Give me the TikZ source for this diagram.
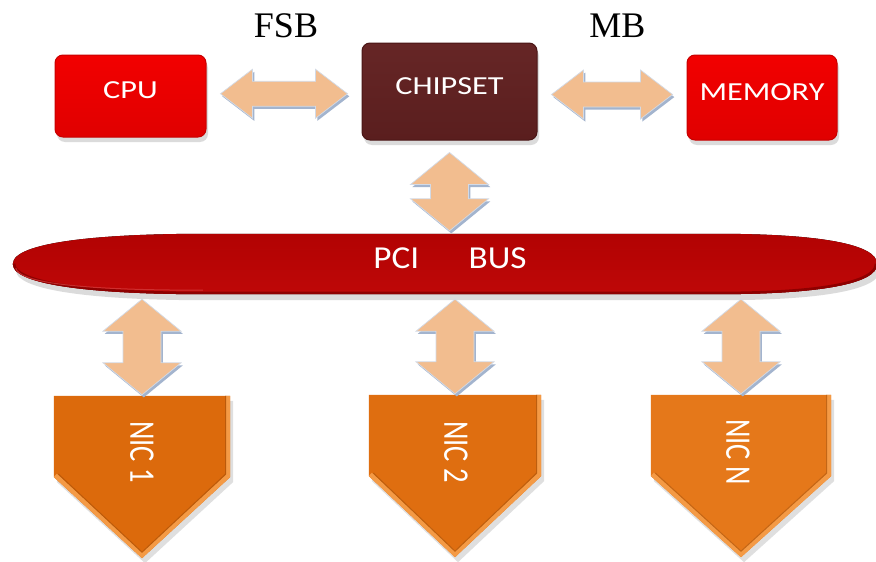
\documentclass[tikz,border=0pt]{standalone}
\usepackage{fontspec}
\setmainfont{Liberation Serif}
\newfontfamily\slidefont{Carlito}
\usetikzlibrary{calc,shadows}

\definecolor{cpured}{HTML}{F20000}
\definecolor{cpureddark}{HTML}{E00000}
\definecolor{cpuedge}{HTML}{C80000}
\definecolor{chipbrown}{HTML}{662626}
\definecolor{chipbrowndark}{HTML}{5A1E1E}
\definecolor{chipedge}{HTML}{4A1616}
\definecolor{busred}{HTML}{BE0808}
\definecolor{busreddark}{HTML}{B20202}
\definecolor{busrim}{HTML}{8E0000}
\definecolor{busshine}{HTML}{D84040}
\definecolor{nicA}{HTML}{DC6A0C}
\definecolor{nicB}{HTML}{DF6E10}
\definecolor{nicC}{HTML}{E5781A}
\definecolor{nicrim}{HTML}{F49A45}
\definecolor{peach}{HTML}{F2BD8F}
\definecolor{peachedge}{HTML}{D2DAE6}
\definecolor{bevel}{HTML}{A3B4CE}

% horizontally stretched slide lettering
\newcommand\wide[1]{\scalebox{1.24}[1]{#1}}
\newcommand\nictxt[1]{\scalebox{0.95}[1.2]{#1}}

\begin{document}
\begin{tikzpicture}[x=1pt,y=-1pt,
  box/.style={rounded corners=8pt, inner sep=0pt, text=white,
    font=\slidefont\fontsize{26}{30}\selectfont,
    text height=17pt, text depth=12pt, line width=1pt,
    drop shadow={shadow xshift=2pt, shadow yshift=-5pt, opacity=0.28}},
  redbox/.style={box, top color=cpured, bottom color=cpureddark, draw=cpuedge},
  brownbox/.style={box, top color=chipbrown, bottom color=chipbrowndark, draw=chipedge},
  busnode/.style={inner sep=0pt, text=white,
    font=\slidefont\fontsize{32}{36}\selectfont,
    text height=21pt, text depth=12.4pt},
  busname/.style={font=\fontsize{36}{40}\selectfont, inner sep=0pt},
  nicnode/.style={inner sep=0pt, minimum height=162pt},
  nictext/.style={rotate=-90, text=white, inner sep=0pt,
    font=\slidefont\fontsize{30}{34}\selectfont},
  arrowbody/.style={fill=peach, draw=peachedge, line width=0.7pt, line join=miter,
    preaction={fill=bevel, transform canvas={shift={(1.8pt,-2.6pt)}}}},
  harrow/.style={to path={
    let \p1=(\tikztostart), \p2=(\tikztotarget),
        \p3=($(\tikztostart)!0.5!(\tikztotarget)$) in
    (\x1+14pt,\y3) -- (\x1+46pt,\y3+24.5pt) -- (\x1+46pt,\y3+12.5pt)
    -- (\x2-46pt,\y3+12.5pt) -- (\x2-46pt,\y3+24.5pt) -- (\x2-14pt,\y3)
    -- (\x2-46pt,\y3-24.5pt) -- (\x2-46pt,\y3-12.5pt) -- (\x1+46pt,\y3-12.5pt)
    -- (\x1+46pt,\y3-24.5pt) -- cycle}},
  varrow/.style 2 args={to path={
    let \p1=(\tikztostart), \p2=(\tikztotarget) in
    (\x1,\y1-#1pt) -- (\x1+39pt,\y1-#1pt-32pt) -- (\x1+19pt,\y1-#1pt-32pt)
    -- (\x1+19pt,\y2+#2pt+32pt) -- (\x1+39pt,\y2+#2pt+32pt) -- (\x1,\y2+#2pt)
    -- (\x1-39pt,\y2+#2pt+32pt) -- (\x1-19pt,\y2+#2pt+32pt) -- (\x1-19pt,\y1-#1pt-32pt)
    -- (\x1-39pt,\y1-#1pt-32pt) -- cycle}}
]
\fill[white] (0,0) rectangle (876,562);
\useasboundingbox (0,0) rectangle (876,562);

% bus labels
\node[busname] (fsb) at (286,26) {FSB};
\node[busname] (mb) at (617.5,26) {MB};

% top row
\node[redbox, minimum width=151pt, minimum height=82pt] (cpu) at (130.5,96) {\wide{CPU}};
\node[brownbox, minimum width=175pt, minimum height=97pt] (chip) at (449.5,91.5) {\wide{CHIPSET}};
\node[redbox, minimum width=150pt, minimum height=85pt] (mem) at (762,97.5) {\wide{MEMORY}};

% PCI bus
\node[busnode, minimum width=864pt, minimum height=60pt] (bus) at (445,264) {};
\fill[top color=busreddark, bottom color=busred,
      drop shadow={shadow xshift=3pt, shadow yshift=-6pt, opacity=0.28}]
  (bus.west) .. controls ($(bus.north west)+(0,8)$) and ($(bus.north west)+(90,0)$)
  .. ($(bus.north west)+(190,0)$) -- ($(bus.north east)+(-160,0)$)
  .. controls ($(bus.north east)+(-60,0)$) and ($(bus.north east)+(0,10)$) .. (bus.east)
  .. controls ($(bus.south east)+(0,-10)$) and ($(bus.south east)+(-60,0)$)
  .. ($(bus.south east)+(-160,0)$) -- ($(bus.south west)+(190,0)$)
  .. controls ($(bus.south west)+(90,0)$) and ($(bus.south west)+(0,-8)$) .. (bus.west) -- cycle;
\begin{scope}
  \clip (bus.west) .. controls ($(bus.north west)+(0,8)$) and ($(bus.north west)+(90,0)$)
    .. ($(bus.north west)+(190,0)$) -- ($(bus.north east)+(-160,0)$)
    .. controls ($(bus.north east)+(-60,0)$) and ($(bus.north east)+(0,10)$) .. (bus.east)
    .. controls ($(bus.south east)+(0,-10)$) and ($(bus.south east)+(-60,0)$)
    .. ($(bus.south east)+(-160,0)$) -- ($(bus.south west)+(190,0)$)
    .. controls ($(bus.south west)+(90,0)$) and ($(bus.south west)+(0,-8)$) .. (bus.west) -- cycle;
  \draw[busrim, line width=5pt]
    (bus.east) .. controls ($(bus.south east)+(0,-10)$) and ($(bus.south east)+(-60,0)$)
    .. ($(bus.south east)+(-160,0)$) -- ($(bus.south west)+(190,0)$)
    .. controls ($(bus.south west)+(90,0)$) and ($(bus.south west)+(0,-8)$) .. (bus.west);
  \draw[busshine, line width=1pt, opacity=0.7]
    ($(bus.west)+(3,4)$) .. controls ($(bus.south west)+(6,-10)$) and ($(bus.south west)+(80,-4)$)
    .. ($(bus.south west)+(190,-4)$);
\end{scope}
\node[busnode] (bustext) at (bus) {\scalebox{1.1}[1]{\hspace*{9pt}PCI\hspace{45pt}BUS}};

% network cards: outline frames first, then the pentagon bodies, then the lettering
\node[nicnode, minimum width=176pt] (nic1) at (142,477) {};
\node[nicnode, minimum width=172pt] (nic2) at (455,476) {};
\node[nicnode, minimum width=180pt] (nicN) at (741,476) {};

\foreach \n/\c in {nic1/nicA, nic2/nicB, nicN/nicC}{
  \fill[\c, drop shadow={shadow xshift=3pt, shadow yshift=-5pt, opacity=0.25}]
    (\n.north west) -- (\n.north east) -- (\n.east) -- (\n.south) -- (\n.west) -- cycle;
  \begin{scope}
    \clip (\n.north west) -- (\n.north east) -- (\n.east) -- (\n.south) -- (\n.west) -- cycle;
    \draw[nicrim, line width=9pt, line join=miter]
      (\n.north east) -- (\n.east) -- (\n.south) -- (\n.west);
    \draw[\c!85!black, line width=1pt]
      ($(\n.north east)+(-4.5,0)$) -- ($(\n.east)+(-4.5,-3)$) -- ($(\n.south)+(0,-6)$) -- ($(\n.west)+(4.5,-3)$);
  \end{scope}
}
\node[nictext] (nic1t) at ($(nic1)+(0,-25)$) {\nictxt{NIC 1}};
\node[nictext] (nic2t) at ($(nic2)+(1,-24)$) {\nictxt{NIC 2}};
\node[nictext] (nicNt) at ($(nicN)+(-3,-24)$) {\nictxt{NIC N}};

% bus connections
\draw[arrowbody] (cpu.east) to[harrow] (chip.west);
\draw[arrowbody] (chip.east) to[harrow] (mem.west);
\draw[arrowbody] (chip.south) to[varrow={12}{3}] (chip.south |- bus.north);
\draw[arrowbody] (nic1.north |- bus.south) to[varrow={5}{1}] (nic1.north);
\draw[arrowbody] (nic2.north |- bus.south) to[varrow={5}{1}] (nic2.north);
\draw[arrowbody] (nicN.north |- bus.south) to[varrow={5}{1}] (nicN.north);
\end{tikzpicture}
\end{document}
